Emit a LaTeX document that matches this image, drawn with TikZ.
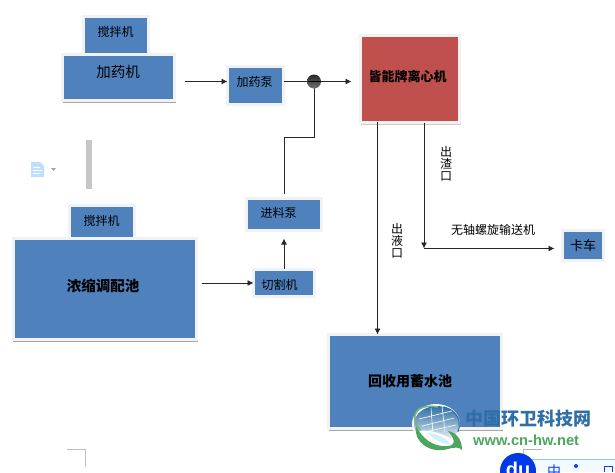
\documentclass[tikz,border=0pt]{standalone}
\usepackage{fontspec}
\setmainfont{Noto Sans CJK SC}
\newfontfamily\latinf{Liberation Sans}
\usetikzlibrary{arrows.meta}
\definecolor{boxblue}{HTML}{4F81BD}
\definecolor{boxred}{HTML}{C0504D}
\definecolor{halo}{HTML}{F2F2F2}
\definecolor{wmblue}{HTML}{2F6FA5}
\definecolor{wmgreen}{HTML}{4CA65F}
\tikzset{
 x=1pt,y=-1pt,
 box/.style={draw=halo,line width=3pt,fill=boxblue,inner sep=0pt,outer sep=0pt,text=black},
 link/.style={draw=black!85,line width=0.9pt},
 arr/.style={link,-{Latex[length=6pt,width=6pt]}},
 lbl/.style={inner sep=0pt,text=black,font=\fontsize{12}{12}\selectfont},
 vlbl/.style={inner sep=0pt,text=black,align=center,font=\fontsize{12}{14}\selectfont},
 under/.style={draw=black!35,line width=.8pt},
}
\newcommand{\boxat}[6][box]{\node[#1,minimum width=#4 pt-#2 pt+3pt,minimum height=#5 pt-#3 pt+3pt,anchor=north west] (#6) at (#2-1.5,#3-1.5) {};}
\begin{document}
\begin{tikzpicture}
\useasboundingbox (0,0) rectangle (615,472);
\fill[white] (0,0) rectangle (615,472);
% chrome
\fill[black!22] (86,140) rectangle (92,189);
\fill[blue!50!cyan!25] (31,162) -- (40,162) -- (44,166) -- (44,177) -- (31,177) -- cycle;
\draw[white,line width=.7pt] (33,167)--(40,167) (33,170)--(42,170) (33,173)--(40,173);
\fill[black!35] (51,168) -- (56,168) -- (53.5,171) -- cycle;
\draw[black!25,line width=.7pt] (67,449) -- (85,449) -- (85,467);
% boxes
\boxat{85}{18}{147}{53}{stirA}
\boxat{64}{56}{173}{99}{doser}
\boxat{229}{68}{282}{103}{dpump}
\boxat[box,fill=boxred]{362}{37}{458}{121}{cent}
\boxat{248}{200}{320}{229}{fpump}
\boxat{255}{271}{313}{295}{cutter}
\boxat{71}{207}{133}{237}{stirB}
\boxat{15}{240}{195}{338}{tank}
\boxat{330}{336}{500}{427}{reuse}
\boxat{564}{232}{602}{259}{truck}
\draw[under] (63,102.5) -- (176,102.5);
\draw[under] (13,341.5) -- (198,341.5);
\draw[under] (329,430.5) -- (503,430.5);
\draw[under,black!20] (361,124.5) -- (461,124.5);
% texts
\node[lbl] at (115.5,32) {搅拌机};
\node[lbl,font=\fontsize{14.5}{14.5}\selectfont] at (118,71.5) {加药机};
\node[lbl] at (254.5,82) {加药泵};
\node[lbl,font=\bfseries\fontsize{13}{13}\selectfont] at (407.5,77) {皆能牌离心机};
\node[lbl] at (278.5,212.5) {进料泵};
\node[lbl] at (279.5,284.5) {切割机};
\node[lbl] at (101.5,220.5) {搅拌机};
\node[lbl,font=\bfseries\fontsize{14.5}{14.5}\selectfont] at (103,286) {浓缩调配池};
\node[lbl,font=\bfseries\fontsize{14}{14}\selectfont] at (410,381) {回收用蓄水池};
\node[lbl,font=\fontsize{13}{13}\selectfont] at (583,245.5) {卡车};
\node[lbl] at (493,229.5) {无轴螺旋输送机};
\node[vlbl] at (446,164) {出\\[-2pt]渣\\[-2pt]口};
\node[vlbl] at (397,241) {出\\[-2pt]液\\[-2pt]口};
% connector ends and junction
\coordinate (j) at (314,81.5);
\coordinate (k) at (424,248.5);
\coordinate (bend) at (314,137);
\coordinate (liq) at (377.5,122);
\draw[arr] ([xshift=10pt]doser.east |- j) -- (dpump.west |- j);
\draw[link] (dpump.east |- j) -- (j);
\draw[arr,shorten >=9pt] (j) -- (cent.west |- j);
\draw[link,line width=1pt] (j) -- (bend) -- (fpump.north |- bend) -- ([yshift=5pt]fpump.north);
\draw[arr] ([yshift=1pt]cutter.north) -- ([yshift=-8pt]fpump.south);
\draw[arr] ([xshift=5pt]tank.east |- cutter.west) -- (cutter.west);
\draw[arr] (liq) -- (liq |- reuse.north);
\draw[arr] (k |- cent.south) -- (k);
\draw[arr,shorten >=8pt] (k) -- (truck.west |- k);
\shade[top color=black!85,bottom color=black!55] (j) circle (7);
\draw[black,line width=.5pt] (307.5,81.5) -- (320.5,81.5);
% watermark logo
\begin{scope}
\fill[white] (436,424) ellipse (24 and 20);
\shade[top color=wmblue,bottom color=white,middle color=wmblue!55] (437,424) ellipse (23 and 18);
\draw[wmblue,line width=1pt] (444,407) .. controls (456,410) and (462,420) .. (458,432);
\draw[white,line width=.6pt] (419,419)--(452,411) (422,426)--(454,418) (425,432)--(456,425) (431,408)--(433,434) (442,406)--(445,432);
\draw[wmgreen!80!white,line width=1.6pt] (421,431) .. controls (408,416) and (416,403) .. (438,407);
\fill[white] (418,431) .. controls (434,429) and (450,436) .. (461,447) .. controls (445,452) and (425,448) .. cycle;
\fill[blue!30!cyan!20] (428,433) .. controls (438,434) and (446,438) .. (450,444) .. controls (442,444) and (434,440) .. cycle;
\fill[wmgreen] (416,426) .. controls (413,442) and (430,454) .. (448,449) .. controls (455,447) and (459,447) .. (462,450) .. controls (462,438) and (455,432) .. (448,431) .. controls (457,441) and (455,447) .. (444,446) .. controls (432,446) and (422,438) .. cycle;
\end{scope}
\node[anchor=west,inner sep=0pt,text=wmblue,font=\bfseries\fontsize{18}{18}\selectfont] at (465,419) {中国环卫科技网};
\node[anchor=west,inner sep=0pt,text=wmgreen,font=\latinf\bfseries\fontsize{14.7}{14.7}\selectfont] at (473,440) {www.cn-hw.net};
% corner marker and bottom bar
\draw[black!30,line width=.7pt] (542,449) -- (523,449) -- (523,454);
\fill[blue!50!cyan!5] (530,459) rectangle (615,472);
\draw[blue!50!cyan!45,line width=.7pt] (530,459) -- (615,459);
\fill[blue!75!cyan!90!black] (518,471) circle (18);
\node[text=white,inner sep=0pt,font=\latinf\bfseries\fontsize{20}{20}\selectfont] at (518,469) {du};
\node[anchor=west,inner sep=0pt,text=blue!75!cyan,font=\fontsize{14}{14}\selectfont] at (547,471) {中};
\fill[blue!75!cyan] (576,466) circle (2);
\draw[blue!75!cyan,line width=1pt] (604,472) -- (604,466) -- (612,466) -- (612,472);
\end{tikzpicture}
\end{document}
